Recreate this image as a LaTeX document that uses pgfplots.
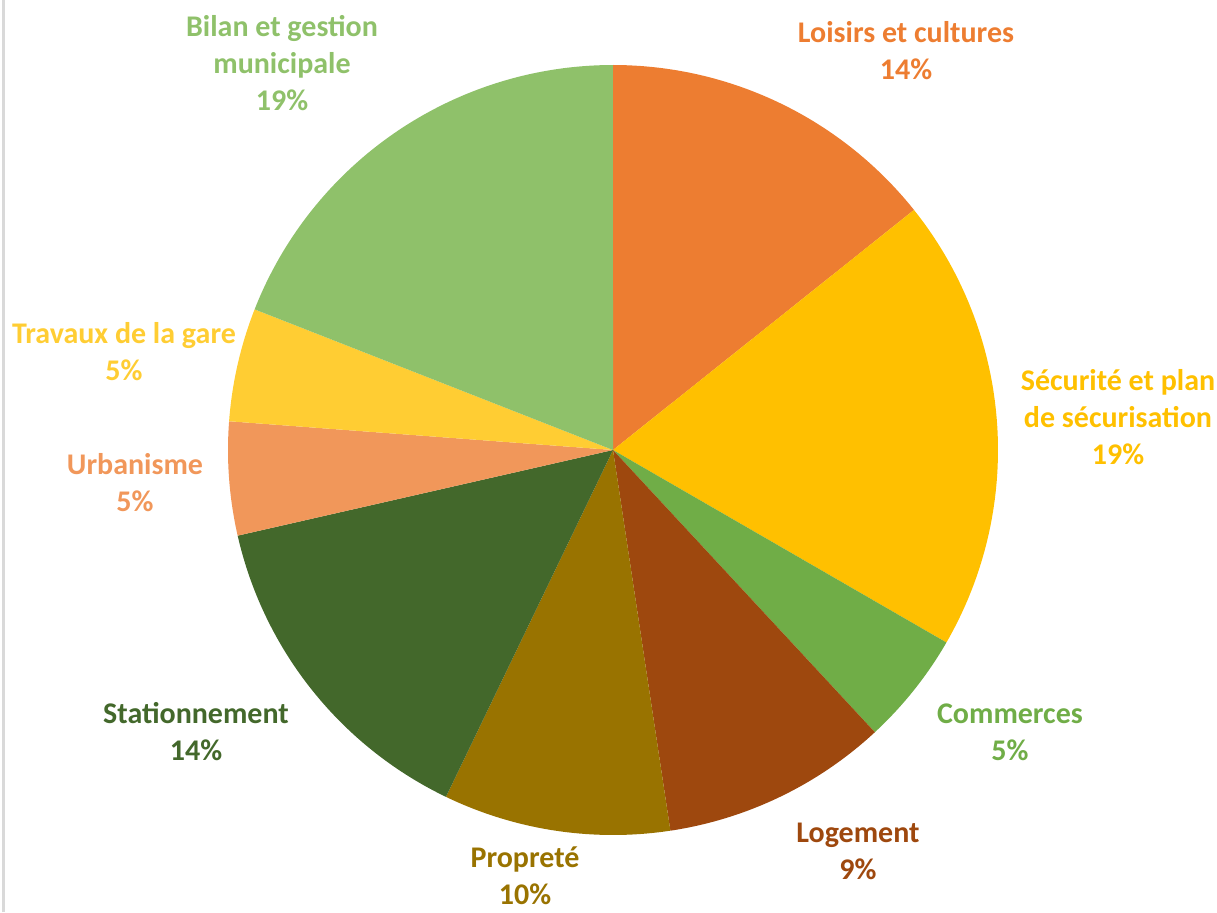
\documentclass[border=0pt]{standalone}
\usepackage{pgfplots}
\pgfplotsset{compat=1.18}
\usepackage{fontspec}
\setmainfont{Carlito}
\definecolor{cA}{HTML}{ED7D31}
\definecolor{cB}{HTML}{FFC000}
\definecolor{cC}{HTML}{70AD47}
\definecolor{cD}{HTML}{9E480E}
\definecolor{cE}{HTML}{997300}
\definecolor{cF}{HTML}{43682B}
\definecolor{cG}{HTML}{F1975A}
\definecolor{cH}{HTML}{FFCD33}
\definecolor{cI}{HTML}{8FC16A}
\begin{document}
\begin{tikzpicture}
\begin{axis}[
  scale only axis, width=608.5pt, height=456pt,
  xmin=0, xmax=1217, ymin=0, ymax=912,
  hide axis, clip=false,
]
\def\cum{0}
\foreach \v/\c in {3/cA,4/cB,1/cC,2/cD,2/cE,3/cF,1/cG,1/cH,4/cI}{
  \pgfmathsetmacro\a{\cum}
  \pgfmathsetmacro\b{\cum+\v}
  \edef\temp{\noexpand\addplot[fill=\c, draw=none, domain=\a:\b, samples=80]
    ({613+385*sin(360*x/21)}, {462+385*cos(360*x/21)}) -- (613,462) -- cycle;}
  \temp
  \xdef\cum{\b}
}
\draw[color=black!15, line width=1.5pt] (4,0) -- (4,912);
\tikzset{lab/.style={font=\fontsize{15}{18.5}\selectfont\bfseries, align=center, inner sep=0pt}}
\node[lab, text=cA] at (906,861) {Loisirs et cultures\\14\%};
\node[lab, text=cB] at (1118,495) {Sécurité et plan\\de sécurisation\\19\%};
\node[lab, text=cC] at (1010,180) {Commerces\\5\%};
\node[lab, text=cD] at (858,61) {Logement\\9\%};
\node[lab, text=cE] at (525,36) {Propreté\\10\%};
\node[lab, text=cF] at (196,180) {Stationnement\\14\%};
\node[lab, text=cG] at (135,429) {Urbanisme\\5\%};
\node[lab, text=cH] at (124,560) {Travaux de la gare\\5\%};
\node[lab, text=cI] at (282,849) {Bilan et gestion\\municipale\\19\%};
\end{axis}
\pgfresetboundingbox
\path[use as bounding box] (current axis.south west) rectangle (current axis.north east);
\end{tikzpicture}
\end{document}
